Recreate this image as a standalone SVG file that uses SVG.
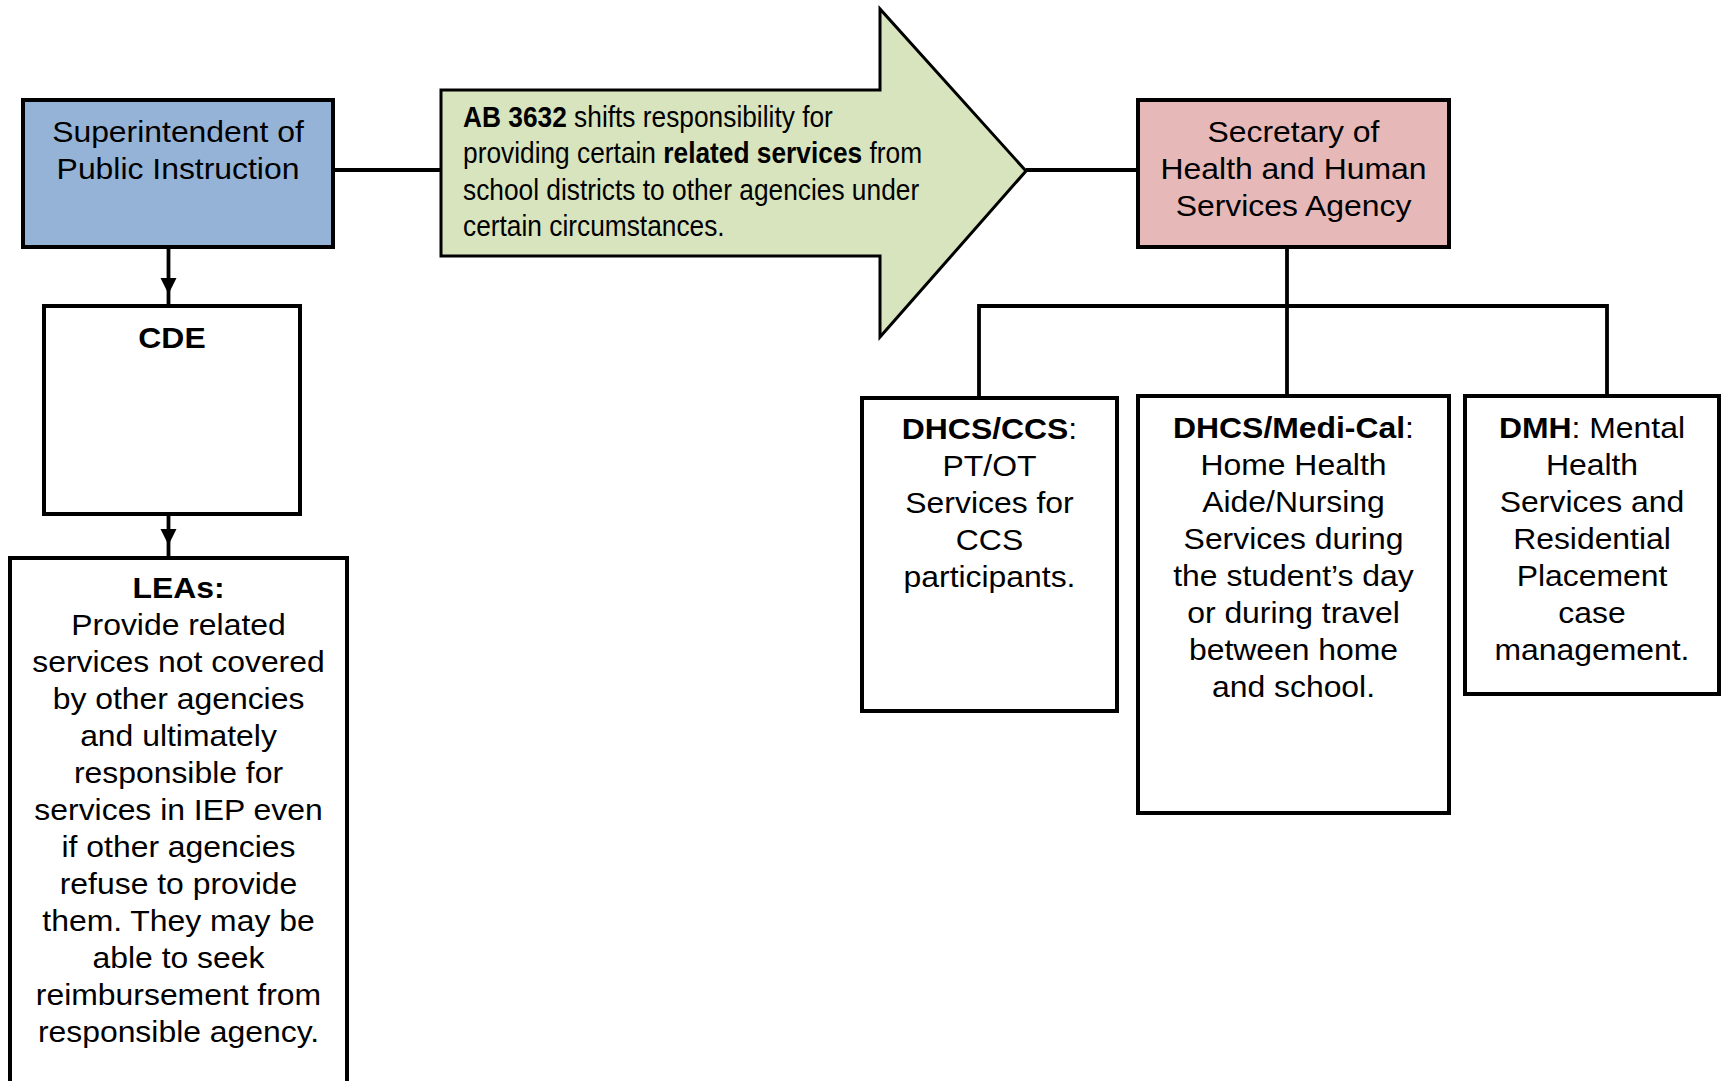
<svg xmlns="http://www.w3.org/2000/svg" width="1721" height="1081" viewBox="0 0 1721 1081">
<style>
.box{stroke:#000;stroke-width:4;}
.conn{stroke:#000;stroke-width:3.8;fill:none;}
.ahd{fill:#000;stroke:none;}
.t{font-family:"Liberation Sans",Arial,sans-serif;font-size:29px;fill:#000;text-anchor:middle;}
.n{font-family:"Liberation Sans",Arial,sans-serif;font-size:28.6px;fill:#000;}
.b{font-weight:bold;}
</style>
<rect width="1721" height="1081" fill="#fff"/>

<g id="connectors">
<line class="conn" x1="333" y1="170" x2="441" y2="170"/>
<line class="conn" x1="1026" y1="170" x2="1138" y2="170"/>
<line class="conn" x1="168.5" y1="247" x2="168.5" y2="306"/>
<polygon class="ahd" points="160.5,278 176.5,278 168.5,294"/>
<line class="conn" x1="168.5" y1="514" x2="168.5" y2="558"/>
<polygon class="ahd" points="160.5,529 176.5,529 168.5,545"/>
<line class="conn" x1="1287" y1="247" x2="1287" y2="396"/>
<polyline class="conn" points="979,398 979,306 1607,306 1607,396"/>
</g>

<g id="superintendent">
<rect class="box" x="23" y="100" width="310" height="147" fill="#95B3D7"/>
<g transform="translate(178 0) scale(1.1 1)">
<text class="t" x="0" y="142">Superintendent of</text>
<text class="t" x="0" y="179">Public Instruction</text>
</g>
</g>

<g id="cde">
<rect class="box" x="44" y="306" width="256" height="208" fill="#fff"/>
<g transform="translate(172 0) scale(1.1 1)">
<text class="t b" x="0" y="348">CDE</text>
</g>
</g>

<g id="leas">
<rect class="box" x="10" y="558" width="337" height="540" fill="#fff"/>
<g transform="translate(178.5 0) scale(1.1 1)">
<text class="t b" x="0" y="598">LEAs:</text>
<text class="t" x="0" y="635">Provide related</text>
<text class="t" x="0" y="672">services not covered</text>
<text class="t" x="0" y="709">by other agencies</text>
<text class="t" x="0" y="746">and ultimately</text>
<text class="t" x="0" y="783">responsible for</text>
<text class="t" x="0" y="820">services in IEP even</text>
<text class="t" x="0" y="857">if other agencies</text>
<text class="t" x="0" y="894">refuse to provide</text>
<text class="t" x="0" y="931">them. They may be</text>
<text class="t" x="0" y="968">able to seek</text>
<text class="t" x="0" y="1005">reimbursement from</text>
<text class="t" x="0" y="1042">responsible agency.</text>
</g>
</g>

<g id="ab3632">
<polygon points="441,90 880,90 880,9 1026,171 880,337 880,256 441,256" fill="#D7E4BD" stroke="#000" stroke-width="3" stroke-linejoin="miter"/>
<g transform="translate(463 0) scale(0.92 1)">
<text class="n" x="0" y="127"><tspan class="b">AB 3632</tspan> shifts responsibility for</text>
<text class="n" x="0" y="163.5">providing certain <tspan class="b">related services</tspan> from</text>
<text class="n" x="0" y="200">school districts to other agencies under</text>
<text class="n" x="0" y="236.5">certain circumstances.</text>
</g>
</g>

<g id="secretary">
<rect class="box" x="1138" y="100" width="311" height="147" fill="#E6B9B8"/>
<g transform="translate(1293.5 0) scale(1.1 1)">
<text class="t" x="0" y="142">Secretary of</text>
<text class="t" x="0" y="179">Health and Human</text>
<text class="t" x="0" y="216">Services Agency</text>
</g>
</g>

<g id="dhcs-ccs">
<rect class="box" x="862" y="398" width="255" height="313" fill="#fff"/>
<g transform="translate(989.5 0) scale(1.1 1)">
<text class="t" x="0" y="439"><tspan class="b">DHCS/CCS</tspan>:</text>
<text class="t" x="0" y="476">PT/OT</text>
<text class="t" x="0" y="513">Services for</text>
<text class="t" x="0" y="550">CCS</text>
<text class="t" x="0" y="587">participants.</text>
</g>
</g>

<g id="dhcs-medical">
<rect class="box" x="1138" y="396" width="311" height="417" fill="#fff"/>
<g transform="translate(1293.5 0) scale(1.1 1)">
<text class="t" x="0" y="438"><tspan class="b">DHCS/Medi-Cal</tspan>:</text>
<text class="t" x="0" y="475">Home Health</text>
<text class="t" x="0" y="512">Aide/Nursing</text>
<text class="t" x="0" y="549">Services during</text>
<text class="t" x="0" y="586">the student’s day</text>
<text class="t" x="0" y="623">or during travel</text>
<text class="t" x="0" y="660">between home</text>
<text class="t" x="0" y="697">and school.</text>
</g>
</g>

<g id="dmh">
<rect class="box" x="1465" y="396" width="254" height="298" fill="#fff"/>
<g transform="translate(1592 0) scale(1.1 1)">
<text class="t" x="0" y="438"><tspan class="b">DMH</tspan>: Mental</text>
<text class="t" x="0" y="475">Health</text>
<text class="t" x="0" y="512">Services and</text>
<text class="t" x="0" y="549">Residential</text>
<text class="t" x="0" y="586">Placement</text>
<text class="t" x="0" y="623">case</text>
<text class="t" x="0" y="660">management.</text>
</g>
</g>
</svg>
